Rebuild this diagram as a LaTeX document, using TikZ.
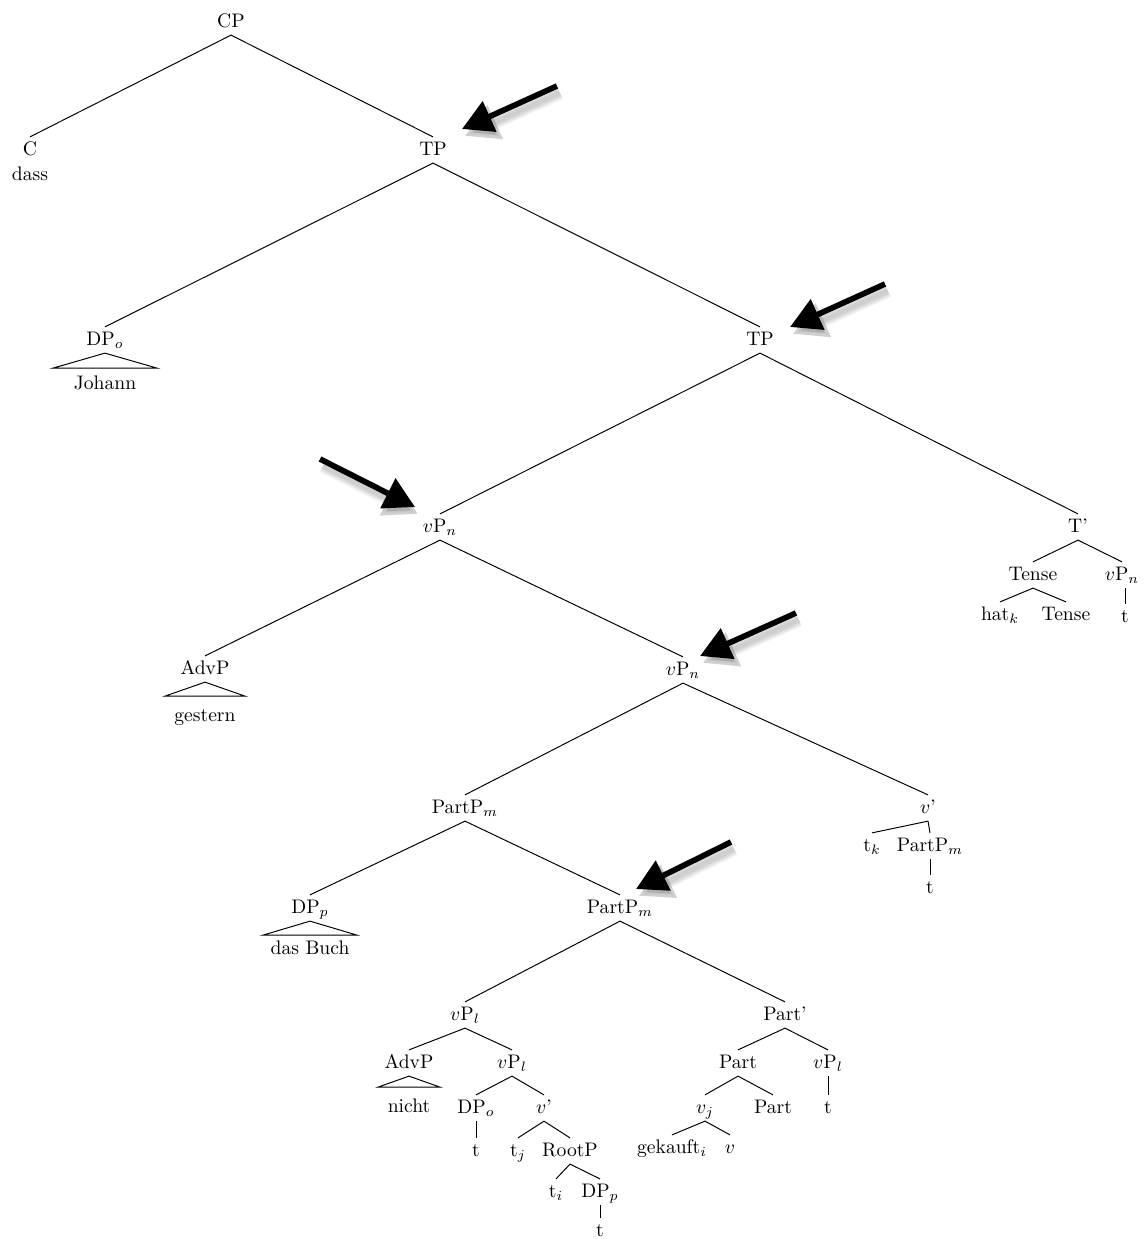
\documentclass[tikz,border=0pt]{standalone}
\usetikzlibrary{arrows.meta}
\begin{document}
\begin{tikzpicture}[x=0.51pt,y=-0.51pt,
  lab/.style={inner sep=2.4pt, text height=1.6ex, text depth=0.3ex, anchor=center},
  br/.style={line width=0.5pt},
  bigarrow/.style={line width=2.9pt, -{Triangle[length=15.5pt,width=16.5pt]}},
  ]
\useasboundingbox (0,0) rectangle (1143,1239);
% nodes
\node[lab] (CP) at (231,22) {CP};
\node[lab] (C) at (30,150) {C};
\node[lab] (dass) at (30,175) {dass};
\node[lab] (TP1) at (433,150) {TP};
\node[lab] (DPo) at (105,340) {DP$_o$};
\node[lab] (Johann) at (105,384) {Johann};
\node[lab] (TP2) at (760,340) {TP};
\node[lab] (vPn1) at (440,527) {$v$P$_n$};
\node[lab] (Tbar) at (1078,527) {T'};
\node[lab] (Tense) at (1033,575) {Tense};
\node[lab] (vPn3) at (1122,575) {$v$P$_n$};
\node[lab] (hatk) at (1000,615) {hat$_k$};
\node[lab] (Tense2) at (1066,615) {Tense};
\node[lab] (t1) at (1125,617) {t};
\node[lab] (AdvP1) at (205,669) {AdvP};
\node[lab] (gestern) at (205,716) {gestern};
\node[lab] (vPn2) at (683,670) {$v$P$_n$};
\node[lab] (PartPm1) at (465,808) {PartP$_m$};
\node[lab] (vbar1) at (928,808) {$v$'};
\node[lab] (tk) at (872,846) {t$_k$};
\node[lab] (PartPm3) at (930,846) {PartP$_m$};
\node[lab] (t2) at (930,888) {t};
\node[lab] (DPp1) at (310,908) {DP$_p$};
\node[lab] (dasBuch) at (310,949) {das Buch};
\node[lab] (PartPm2) at (620,908) {PartP$_m$};
\node[lab] (vPl1) at (465,1015) {$v$P$_l$};
\node[lab] (Partbar) at (785,1015) {Part'};
\node[lab] (AdvP2) at (409,1063) {AdvP};
\node[lab] (nicht) at (409,1107) {nicht};
\node[lab] (vPl2) at (512,1063) {$v$P$_l$};
\node[lab] (DPo2) at (476,1108) {DP$_o$};
\node[lab] (vbar2) at (544,1108) {$v$'};
\node[lab] (t3) at (476,1151) {t};
\node[lab] (tj) at (518,1151) {t$_j$};
\node[lab] (RootP) at (570,1151) {RootP};
\node[lab] (ti) at (556,1192) {t$_i$};
\node[lab] (DPp2) at (600,1192) {DP$_p$};
\node[lab] (t4) at (600,1231) {t};
\node[lab] (Part1) at (738,1063) {Part};
\node[lab] (vPl3) at (828,1063) {$v$P$_l$};
\node[lab] (vj) at (705,1108) {$v_j$};
\node[lab] (Part2) at (773,1108) {Part};
\node[lab] (t5) at (828,1108) {t};
\node[lab] (gekauft) at (672,1148) {gekauft$_i$};
\node[lab] (vv) at (730,1148) {$v$};
% branches
\begin{scope}[br]
\draw (CP.south) -- (C.north);
\draw (CP.south) -- (TP1.north);
\draw (TP1.south) -- (DPo.north);
\draw (TP1.south) -- (TP2.north);
\draw (TP2.south) -- (vPn1.north);
\draw (TP2.south) -- (Tbar.north);
\draw (Tbar.south) -- (Tense.north);
\draw (Tbar.south) -- (vPn3.north);
\draw (Tense.south) -- (hatk.north);
\draw (Tense.south) -- (Tense2.north);
\draw (t1 |- vPn3.south) -- (t1.north);
\draw (vPn1.south) -- (AdvP1.north);
\draw (vPn1.south) -- (vPn2.north);
\draw (vPn2.south) -- (PartPm1.north);
\draw (vPn2.south) -- (vbar1.north);
\draw (vbar1.south) -- (tk.north);
\draw (vbar1.south) -- (PartPm3.north);
\draw (PartPm3.south) -- (t2.north);
\draw (PartPm1.south) -- (DPp1.north);
\draw (PartPm1.south) -- (PartPm2.north);
\draw (PartPm2.south) -- (vPl1.north);
\draw (PartPm2.south) -- (Partbar.north);
\draw (vPl1.south) -- (AdvP2.north);
\draw (vPl1.south) -- (vPl2.north);
\draw (vPl2.south) -- (DPo2.north);
\draw (vPl2.south) -- (vbar2.north);
\draw (DPo2.south) -- (t3.north);
\draw (vbar2.south) -- (tj.north);
\draw (vbar2.south) -- (RootP.north);
\draw (RootP.south) -- (ti.north);
\draw (RootP.south) -- (DPp2.north);
\draw (DPp2.south) -- (t4.north);
\draw (Partbar.south) -- (Part1.north);
\draw (Partbar.south) -- (vPl3.north);
\draw (Part1.south) -- (vj.north);
\draw (Part1.south) -- (Part2.north);
\draw (vPl3.south) -- (t5.north);
\draw (vj.south) -- (gekauft.north);
\draw (vj.south) -- (vv.north);
% triangles
\draw (DPo.south) -- ++(-52,15) -- ++(104,0) -- cycle;
\draw (AdvP1.south) -- ++(-40,14) -- ++(80,0) -- cycle;
\draw (DPp1.south) -- ++(-47,14) -- ++(94,0) -- cycle;
\draw (AdvP2.south) -- ++(-31,11) -- ++(62,0) -- cycle;
\end{scope}
% arrows
\coordinate (a1s) at (557,86);  \coordinate (a1e) at (462,129);
\coordinate (a2s) at (885,284); \coordinate (a2e) at (790,327);
\coordinate (a3s) at (320,459); \coordinate (a3e) at (415,507);
\coordinate (a4s) at (796,613); \coordinate (a4e) at (700,656);
\coordinate (a5s) at (731,842); \coordinate (a5e) at (636,889);
\foreach \s/\e in {a1s/a1e,a2s/a2e,a3s/a3e,a4s/a4e,a5s/a5e}{
  \foreach \w in {2.5,4,5.5,7}{
    \draw[line width=\w pt, black, opacity=0.05, -{Triangle[length=17pt,width=18pt]}, transform canvas={shift={(1.5pt,-3.5pt)}}] (\s) -- (\e);
  }
  \draw[bigarrow] (\s) -- (\e);
}
\end{tikzpicture}
\end{document}
